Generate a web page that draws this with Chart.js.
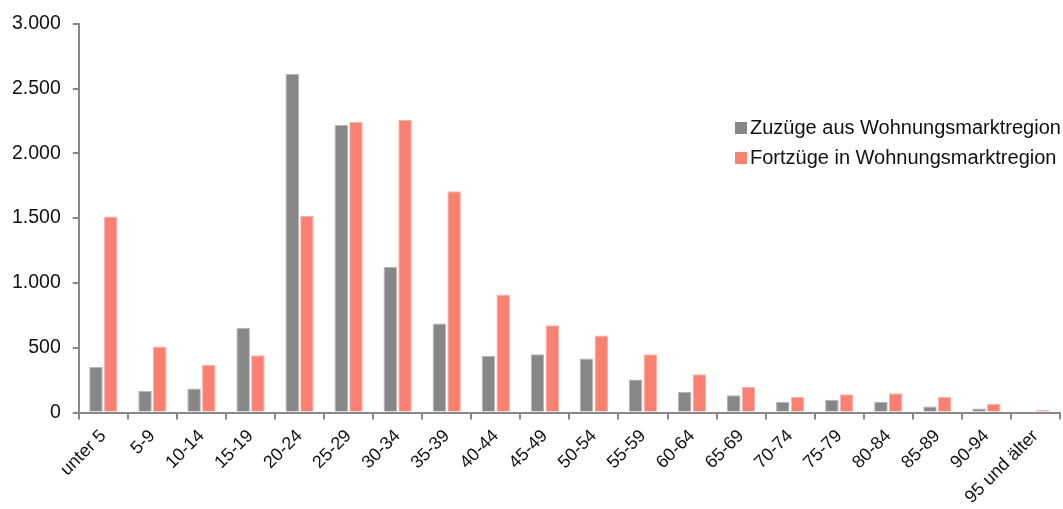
<!DOCTYPE html>
<html>
<head>
<meta charset="utf-8">
<script src="https://cdn.jsdelivr.net/npm/chart.js@4/dist/chart.umd.min.js"></script>
<style>
  html, body { margin: 0; padding: 0; background: #fff; }
  #wrap { width: 1063px; height: 509px; }
</style>
</head>
<body>
<div id="wrap"><canvas id="chart"></canvas></div>
<script>
const ageGroups = ["unter 5", "5-9", "10-14", "15-19", "20-24", "25-29", "30-34", "35-39", "40-44", "45-49",
  "50-54", "55-59", "60-64", "65-69", "70-74", "75-79", "80-84", "85-89", "90-94", "95 und älter"];
const zuzuege = [352, 166, 186, 653, 2612, 2219, 1125, 686, 436, 449, 416, 255, 161, 133, 82, 99, 82, 46, 31, 0];
const fortzuege = [1512, 510, 367, 441, 1516, 2242, 2258, 1707, 911, 673, 595, 449, 296, 196, 120, 140, 148, 120, 67, 21];
const seriesNames = ["Zuzüge aus Wohnungsmarktregion", "Fortzüge in Wohnungsmarktregion"];
const yTicks = [0, 500, 1000, 1500, 2000, 2500, 3000];

const FONT = "'Liberation Sans', Arial, sans-serif";

function fmt(v) {
  return String(v).replace(/\B(?=(\d{3})+(?!\d))/g, ".");
}

// legend drawn inside the plot, top right
const insideLegend = {
  id: "insideLegend",
  afterDraw(chart) {
    const ctx = chart.ctx;
    ctx.save();
    ctx.font = "20px " + FONT;
    ctx.textBaseline = "middle";
    chart.data.datasets.forEach(function (ds, i) {
      const y = 128 + i * 30;
      ctx.fillStyle = ds.backgroundColor;
      ctx.fillRect(735, y - 6, 12, 12);
      ctx.fillStyle = "#111";
      ctx.fillText(ds.label, 750, y);
    });
    ctx.restore();
  }
};

new Chart(document.getElementById("chart").getContext("2d"), {
  type: "bar",
  data: {
    labels: ageGroups,
    datasets: [
      {
        label: seriesNames[0],
        data: zuzuege,
        backgroundColor: "#878787",
        borderColor: "#b5b5b5",
        borderWidth: 1,
        barPercentage: 0.92,
        categoryPercentage: 0.6
      },
      {
        label: seriesNames[1],
        data: fortzuege,
        backgroundColor: "#fa8072",
        borderColor: "#fcb3aa",
        borderWidth: 1,
        barPercentage: 0.92,
        categoryPercentage: 0.6
      }
    ]
  },
  options: {
    responsive: true,
    maintainAspectRatio: false,
    animation: false,
    layout: { padding: { top: 2, right: 3, left: 0, bottom: -5 } },
    plugins: {
      legend: { display: false },
      tooltip: { enabled: false }
    },
    scales: {
      x: {
        grid: { display: true, drawOnChartArea: false, offset: true, color: "#888", tickLength: 7, lineWidth: 2 },
        border: { display: true, color: "#888", width: 2 },
        ticks: {
          color: "#111",
          font: { family: FONT, size: 18 },
          minRotation: 45,
          maxRotation: 45,
          autoSkip: false,
          padding: 6
        }
      },
      y: {
        min: 0,
        max: 3000,
        afterBuildTicks(axis) {
          axis.ticks = yTicks.map(function (v) { return { value: v }; });
        },
        grid: { display: true, drawOnChartArea: false, color: "#888", tickLength: 6, lineWidth: 2 },
        border: { display: true, color: "#888", width: 2 },
        ticks: {
          color: "#111",
          font: { family: FONT, size: 19.5 },
          padding: 12,
          callback: function (v) { return fmt(v); }
        }
      }
    }
  },
  plugins: [insideLegend]
});
</script>
</body>
</html>
